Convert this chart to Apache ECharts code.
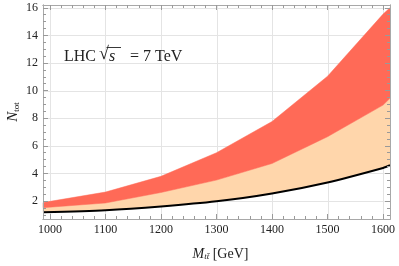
<!DOCTYPE html>
<html>
<head>
<meta charset="utf-8">
<script src="https://cdn.jsdelivr.net/npm/echarts@6/dist/echarts.min.js"></script>
<style>html,body{margin:0;padding:0;background:#fff}#c{width:399px;height:266px}</style>
</head>
<body>
<div id="c"></div>
<script>
// Data
const massX     = [987.5, 1100, 1200, 1300, 1400, 1500, 1600, 1612.5];
const blackLine = [1.19, 1.34, 1.61, 1.98, 2.55, 3.35, 4.40, 4.59];
const peachTop  = [1.52, 1.86, 2.62, 3.52, 4.72, 6.66, 8.95, 9.44];
const redTop    = [1.89, 2.65, 3.79, 5.50, 7.76, 11.04, 15.54, 16.0];
const xTicks = [1000, 1100, 1200, 1300, 1400, 1500, 1600];
const yTicks = [2, 4, 6, 8, 10, 12, 14, 16];
const xMinorTicks = [1020, 1040, 1060, 1080, 1120, 1140, 1160, 1180, 1220, 1240, 1260, 1280,
  1320, 1340, 1360, 1380, 1420, 1440, 1460, 1480, 1520, 1540, 1560, 1580];
const yMinorTicks = [1, 1.5, 2.5, 3, 3.5, 4.5, 5, 5.5, 6.5, 7, 7.5, 8.5, 9, 9.5, 10.5, 11, 11.5,
  12.5, 13, 13.5, 14.5, 15, 15.5];

const X_MIN = 987.5, X_MAX = 1612.5, Y_MIN = 0.7, Y_MAX = 16.2;
const SERIF = "'Liberation Serif', 'DejaVu Serif', serif";
const AXIS_C = '#a8a8a8';
const TXT = '#222';

function xAx(pos, major, showLabel) {
  return {
    type: 'value', min: X_MIN, max: X_MAX, position: pos, gridIndex: 0, z: 10,
    axisLine: { show: true, onZero: false, lineStyle: { color: AXIS_C, width: 1 } },
    axisTick: { show: true, inside: true, length: major ? 5 : 3, customValues: major ? xTicks : xMinorTicks, lineStyle: { color: '#999' } },
    axisLabel: { show: !!showLabel, customValues: xTicks, formatter: v => String(v), fontFamily: SERIF, fontSize: 12, color: TXT, margin: 5 },
    splitLine: { show: false }
  };
}
function yAx(pos, major, showLabel) {
  return {
    type: 'value', min: Y_MIN, max: Y_MAX, position: pos, gridIndex: 0, z: 10,
    axisLine: { show: true, onZero: false, lineStyle: { color: AXIS_C, width: 1 } },
    axisTick: { show: true, inside: true, length: major ? 5 : 3, customValues: major ? yTicks : yMinorTicks, lineStyle: { color: '#999' } },
    axisLabel: { show: !!showLabel, customValues: yTicks, formatter: v => String(v), fontFamily: SERIF, fontSize: 12, color: TXT, margin: 5 },
    splitLine: { show: false }
  };
}

const xa0 = xAx('bottom', true, true);
xa0.name = '{m|M}{s|tt\u0304}{g| [GeV]}';
xa0.nameLocation = 'middle';
xa0.nameGap = 24;
xa0.nameTextStyle = {
  fontFamily: SERIF, color: TXT, padding: [0, 0, 0, 8],
  rich: {
    m: { fontFamily: SERIF, fontStyle: 'italic', fontSize: 14, color: TXT, verticalAlign: 'bottom', lineHeight: 18 },
    s: { fontFamily: SERIF, fontStyle: 'italic', fontSize: 9, color: TXT, verticalAlign: 'bottom', lineHeight: 11 },
    g: { fontFamily: SERIF, fontSize: 14, color: TXT, verticalAlign: 'bottom', lineHeight: 18 }
  }
};
const ya0 = yAx('left', true, true);
ya0.name = '{n|N}{s|tot}';
ya0.nameLocation = 'middle';
ya0.nameRotate = 90;
ya0.nameGap = 22;
ya0.nameMoveOverlap = false;
ya0.nameTextStyle = {
  fontFamily: SERIF, color: TXT,
  rich: {
    n: { fontFamily: SERIF, fontStyle: 'italic', fontSize: 15, color: TXT, verticalAlign: 'bottom', lineHeight: 18 },
    s: { fontFamily: SERIF, fontSize: 9, color: TXT, verticalAlign: 'bottom', lineHeight: 11 }
  }
};

// gridlines at the major ticks, placed through the axes
function gridItem(params, api) {
  if (params.dataIndex !== 0) return null;
  const kids = [];
  xTicks.forEach(v => {
    const a = api.coord([v, Y_MIN]), b = api.coord([v, Y_MAX]);
    kids.push({ type: 'line', shape: { x1: Math.round(a[0]) + 0.5, y1: a[1], x2: Math.round(b[0]) + 0.5, y2: b[1] },
      style: { stroke: '#e4e4e4', lineWidth: 1 } });
  });
  yTicks.forEach(v => {
    const a = api.coord([X_MIN, v]), b = api.coord([X_MAX, v]);
    kids.push({ type: 'line', shape: { x1: a[0], y1: Math.round(a[1]) + 0.5, x2: b[0], y2: Math.round(b[1]) + 0.5 },
      style: { stroke: '#e4e4e4', lineWidth: 1 } });
  });
  return { type: 'group', children: kids };
}

// band polygons drawn through the cartesian scales
function bandItem(params, api) {
  if (params.dataIndex !== 0) return null;
  const lo = massX.map((x, i) => api.coord([x, blackLine[i]]));
  const mid = massX.map((x, i) => api.coord([x, peachTop[i]]));
  const hi = massX.map((x, i) => api.coord([x, redTop[i]]));
  return {
    type: 'group',
    children: [
      { type: 'polygon', shape: { points: lo.concat(mid.slice().reverse()) },
        style: { fill: '#FFD6AB', stroke: '#FFD6AB', lineWidth: 0.5 } },
      { type: 'polygon', shape: { points: mid.concat(hi.slice().reverse()) },
        style: { fill: '#FF6A57', stroke: '#FF6A57', lineWidth: 0.5 } }
    ]
  };
}

const option = {
  backgroundColor: '#fff',
  animation: false,
  grid: { left: 43, right: 9, top: 5, bottom: 47, containLabel: false, outerBoundsMode: 'none' },
  xAxis: [xa0, xAx('bottom', false), xAx('top', true), xAx('top', false)],
  yAxis: [ya0, yAx('left', false), yAx('right', true), yAx('right', false)],
  series: [
    {
      type: 'custom', coordinateSystem: 'cartesian2d', z: 1, silent: true,
      data: [[X_MIN, Y_MIN]], encode: { x: 0, y: 1 },
      renderItem: gridItem
    },
    {
      type: 'custom', coordinateSystem: 'cartesian2d', xAxisIndex: 0, yAxisIndex: 0, z: 3, silent: true,
      data: massX.map((x, i) => [x, blackLine[i], peachTop[i], redTop[i]]),
      encode: { x: 0, y: [1, 2, 3] },
      renderItem: bandItem
    },
    { type: 'line', data: massX.map((x, i) => [x, blackLine[i]]), symbol: 'none', smooth: 0.25,
      lineStyle: { color: '#000', width: 2 }, z: 5, silent: true }
  ],
  graphic: [
    { type: 'text', x: 64, y: 48.5, z: 10,
      style: { text: 'LHC', fontFamily: SERIF, fontSize: 16, fill: TXT, verticalAlign: 'top' } },
    { type: 'text', x: 99, y: 45.5, z: 10,
      style: { text: '\u221A', fontFamily: SERIF, fontSize: 18, fill: TXT, verticalAlign: 'top' } },
    { type: 'text', x: 109, y: 48.5, z: 10,
      style: { text: 's', fontFamily: SERIF, fontSize: 16, fontStyle: 'italic', fill: TXT, verticalAlign: 'top' } },
    { type: 'text', x: 130, y: 48.5, z: 10,
      style: { text: '= 7 TeV', fontFamily: SERIF, fontSize: 16, fill: TXT, verticalAlign: 'top' } },
    { type: 'line', z: 10, shape: { x1: 106.5, y1: 47.5, x2: 121, y2: 47.5 },
      style: { stroke: TXT, lineWidth: 0.9 } }
  ]
};
echarts.init(document.getElementById('c'), null, { renderer: 'canvas' }).setOption(option);
</script>
</body>
</html>
